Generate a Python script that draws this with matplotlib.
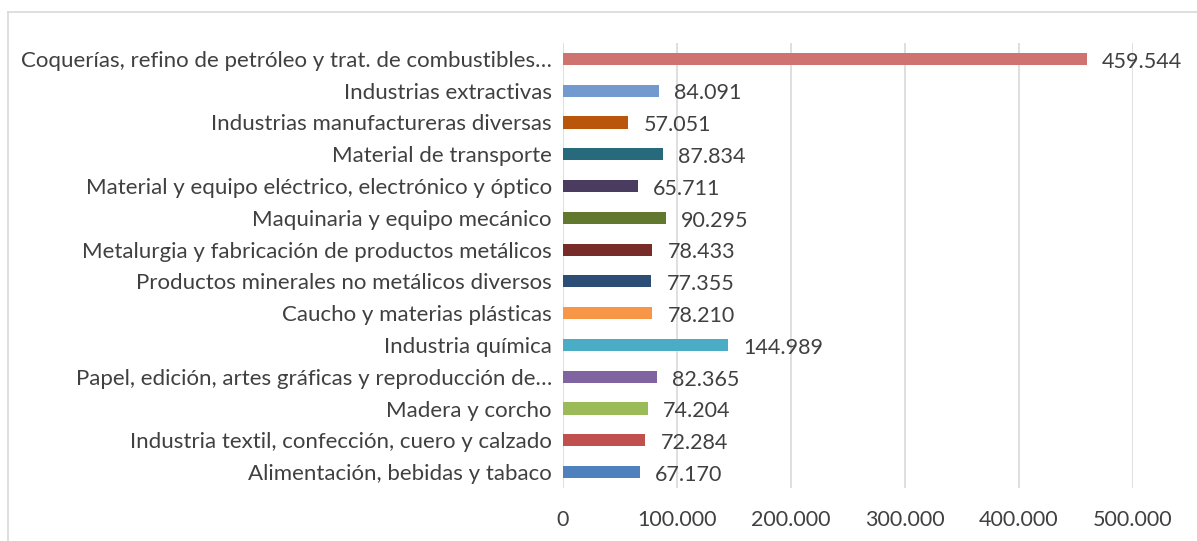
import matplotlib.pyplot as plt
from matplotlib.lines import Line2D

sectors = [
    "Alimentación, bebidas y tabaco",
    "Industria textil, confección, cuero y calzado",
    "Madera y corcho",
    "Papel, edición, artes gráficas y reproducción de…",
    "Industria química",
    "Caucho y materias plásticas",
    "Productos minerales no metálicos diversos",
    "Metalurgia y fabricación de productos metálicos",
    "Maquinaria y equipo mecánico",
    "Material y equipo eléctrico, electrónico y óptico",
    "Material de transporte",
    "Industrias manufactureras diversas",
    "Industrias extractivas",
    "Coquerías, refino de petróleo y trat. de combustibles…",
]
values = [67170, 72284, 74204, 82365, 144989, 78210, 77355,
          78433, 90295, 65711, 87834, 57051, 84091, 459544]
colors = ["#4F81BD", "#C0504D", "#9BBB59", "#8064A2", "#4BACC6", "#F79646",
          "#2C4D75", "#772C2A", "#63782F", "#4A3B60", "#276A7C", "#B9560B",
          "#729ACF", "#CF7371"]
xticks = [0, 100000, 200000, 300000, 400000, 500000]

plt.rcParams['font.family'] = ['Lato', 'DejaVu Sans']
txt = "#404040"
fs = 15.5

def fmt(v):
    return f"{v:,}".replace(",", ".")

fig = plt.figure(figsize=(11.97, 5.41), dpi=100)
ax = fig.add_axes([563/1197, 1 - 488/541, (1133 - 563)/1197, 445/541])

ypos = list(range(len(sectors)))
ax.barh(ypos, values, height=0.38, color=colors, zorder=3)
for y, v in zip(ypos, values):
    ax.annotate(fmt(v), (v, y), xytext=(11, -2), textcoords="offset points",
                ha="left", va="center", fontsize=fs, color=txt)

ax.set_xlim(0, 500000)
ax.set_ylim(-0.5, len(sectors) - 0.5)
ax.set_yticks(ypos)
ax.set_yticklabels(sectors, fontsize=16, color=txt)
ax.set_xticks(xticks)
ax.set_xticklabels([fmt(t) for t in xticks], fontsize=fs, color=txt)
ax.tick_params(axis="both", length=0)
ax.tick_params(axis="y", pad=8)
ax.tick_params(axis="x", pad=16)
ax.grid(axis="x", color="#d9d9d9", linewidth=1.2, zorder=0)
for s in ax.spines.values():
    s.set_visible(False)

# outer chart frame (only left and top edges visible)
fig.add_artist(Line2D([8/1197, 8/1197], [0, 1 - 12/541], color="#d9d9d9", lw=1.2))
fig.add_artist(Line2D([8/1197, 1], [1 - 12/541, 1 - 12/541], color="#d9d9d9", lw=1.2))

fig.savefig("out.png", dpi=100)
